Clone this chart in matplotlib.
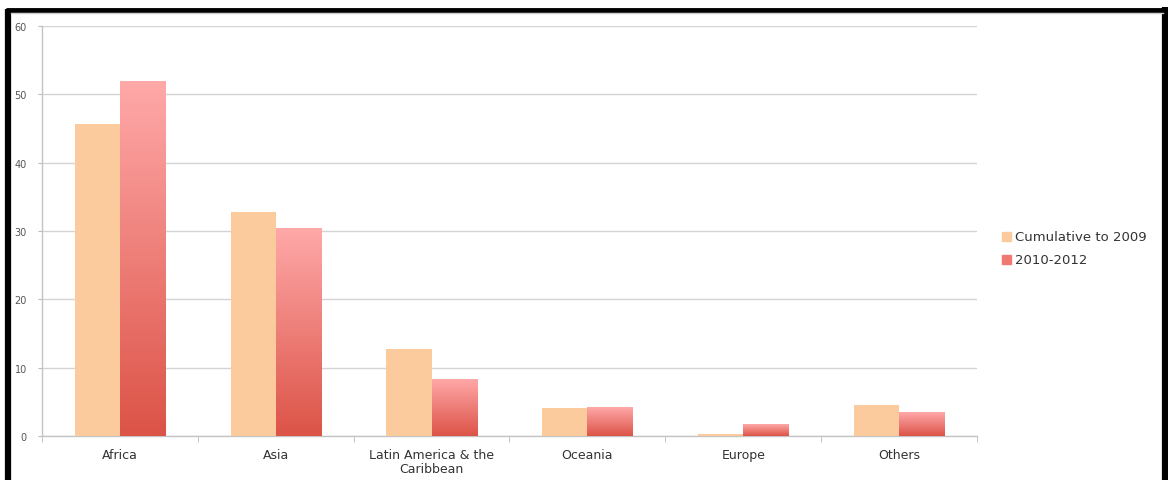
import numpy as np
import matplotlib
matplotlib.use("Agg")
import matplotlib.pyplot as plt
from matplotlib.colors import LinearSegmentedColormap
from matplotlib.patches import Rectangle
from matplotlib.lines import Line2D

categories = ["Africa", "Asia", "Latin America & the\nCaribbean", "Oceania", "Europe", "Others"]
cumulative_2009 = [45.7, 32.8, 12.7, 4.1, 0.3, 4.5]
period_2010_2012 = [51.9, 30.5, 8.4, 4.2, 1.7, 3.5]
series_labels = ["Cumulative to 2009", "2010-2012"]
y_ticks = [0, 10, 20, 30, 40, 50, 60]

W, H = 1168, 481
fig = plt.figure(figsize=(W / 100, H / 100), dpi=100)
fig.patch.set_facecolor("white")
plt.rcParams["font.family"] = ["DejaVu Sans"]

ax = fig.add_axes([42 / W, 1 - 437 / H, (977 - 42) / W, (437 - 27) / H])
ax.set_xlim(-0.5, len(categories) - 0.5)
ax.set_ylim(0, 60)

peach = "#FBCA9D"
grad = LinearSegmentedColormap.from_list("redgrad", ["#DC5347", "#FFA9A9"])
x = np.arange(len(categories))
bw = 0.29

ax.bar(x - bw / 2, cumulative_2009, width=bw, color=peach, zorder=3)
bars2 = ax.bar(x + bw / 2, period_2010_2012, width=bw, color="none", zorder=3)
gradient = np.linspace(0, 1, 256).reshape(-1, 1)
for b in bars2:
    x0, y0 = b.get_x(), b.get_y()
    w, h = b.get_width(), b.get_height()
    im = ax.imshow(gradient, cmap=grad, origin="lower", aspect="auto",
                   extent=[x0, x0 + w, y0, y0 + h], zorder=3)
    im.set_clip_path(b)

ax.set_xlim(-0.5, len(categories) - 0.5)
ax.set_ylim(0, 60)

ax.set_yticks(y_ticks)
ax.yaxis.grid(True, color="#D4D4D4", linewidth=1.0, zorder=0)
ax.set_axisbelow(True)
ax.tick_params(axis="y", length=3, color="#BBBBBB", labelsize=7, labelcolor="#555555", pad=8)

ax.set_xticks(x)
ax.set_xticklabels(categories, fontsize=9, color="#333333", linespacing=1.05)
ax.tick_params(axis="x", length=0, pad=9)
ax.set_xticks(np.arange(len(categories) + 1) - 0.5, minor=True)
ax.tick_params(axis="x", which="minor", length=4, color="#BBBBBB")

for side in ["top", "right"]:
    ax.spines[side].set_visible(False)
for side in ["left", "bottom"]:
    ax.spines[side].set_color("#C4C4C4")
    ax.spines[side].set_linewidth(1.0)

# legend entries
for i, (lab, col) in enumerate(zip(series_labels, [peach, "#EE7A72"])):
    yc = 1 - (238 + 23 * i) / H
    fig.patches.append(Rectangle((1002 / W, yc - 4 / H), 9 / W, 9 / H,
                                 transform=fig.transFigure, color=col))
    fig.text(1015 / W, yc, lab, fontsize=9.5, color="#333333", va="center")

# frame around the chart
fig.lines.append(Line2D([8 / W, 8 / W], [0, 1 - 10 / H], color="black", linewidth=4.5,
                        transform=fig.transFigure, solid_capstyle="butt"))
fig.lines.append(Line2D([6 / W, 1168 / W], [1 - 10.5 / H, 1 - 10.5 / H], color="black",
                        linewidth=3.5, transform=fig.transFigure, solid_capstyle="butt"))
fig.lines.append(Line2D([1165 / W, 1165 / W], [0, 1 - 8 / H], color="black", linewidth=4.5,
                        transform=fig.transFigure, solid_capstyle="butt"))
fig.lines.append(Line2D([11 / W, 1163 / W], [1 - 14 / H, 1 - 14 / H], color="#CCCCCC",
                        linewidth=1.0, transform=fig.transFigure))

fig.savefig("out.png", dpi=100, facecolor="white")
